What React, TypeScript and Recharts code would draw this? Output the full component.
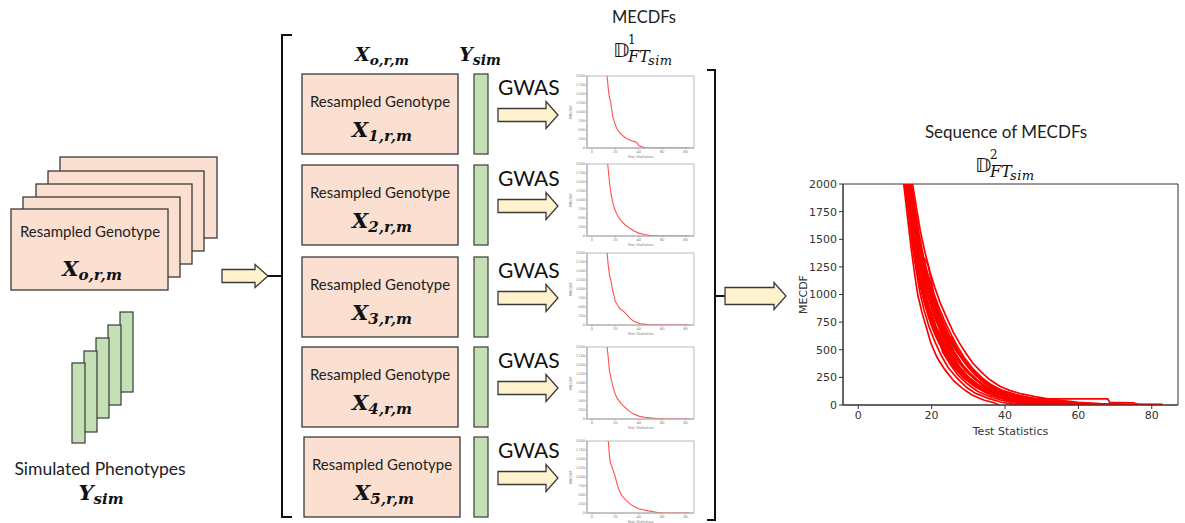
import React from 'react';
import { LineChart, Line, XAxis, YAxis, ReferenceArea } from 'recharts';

// ---------- axis settings ----------
const xTicks = [0, 20, 40, 60, 80];
const yTicks = [0, 250, 500, 750, 1000, 1250, 1500, 1750, 2000];
const xDomain: [number, number] = [-4.15, 87.15];
const yDomain: [number, number] = [0, 2000];
const xLabel = 'Test Statistics';
const yLabel = 'MECDF';

// ---------- text labels ----------
const headerTitle = 'MECDFs';
const seqTitle = 'Sequence of MECDFs';
const boxLabel = 'Resampled Genotype';
const gwasLabel = 'GWAS';
const phenoLabel = 'Simulated Phenotypes';
const rowIndices = ['1', '2', '3', '4', '5'];

// ---------- sequence of MECDFs (big plot), [test statistic, MECDF] ----------
const c01 = [[11.6,2500],[12.4,2000],[13.6,1650],[14.5,1400],[15.4,1180],[16.2,1000],[17.5,820],[18.6,700],[19.8,560],[21.5,430],[23.6,320],[26.0,220],[28.4,150],[31.0,90],[34.2,45],[37.0,20],[38.5,0]];
const c02 = [[11.8,2500],[12.7,2000],[13.9,1680],[14.8,1420],[15.9,1200],[16.8,1020],[18.0,850],[19.4,700],[20.8,580],[22.6,450],[24.5,340],[27.0,240],[29.5,160],[32.0,105],[35.5,60],[39.0,25],[42.0,8],[44.0,0]];
const c03 = [[12.0,2500],[13.0,2000],[14.1,1700],[15.0,1460],[16.0,1250],[17.2,1050],[18.3,900],[19.9,740],[21.2,620],[22.0,600],[23.0,480],[25.0,370],[27.2,270],[29.8,190],[32.5,125],[35.6,80],[38.8,45],[42.5,20],[46.0,5],[48.0,0]];
const c04 = [[12.1,2500],[13.2,2000],[14.3,1720],[15.3,1480],[16.4,1260],[17.3,1100],[18.8,920],[20.3,760],[21.9,630],[23.8,500],[25.6,400],[27.9,300],[30.1,220],[33.0,150],[36.0,95],[39.5,55],[43.0,30],[47.0,12],[52.0,3],[55.0,0]];
const c05 = [[12.3,2500],[13.4,2000],[14.6,1700],[15.5,1500],[16.6,1320],[17.8,1150],[19.0,980],[20.5,820],[22.0,700],[23.5,580],[25.4,460],[27.5,350],[30.0,250],[32.8,170],[36.0,110],[39.0,70],[42.4,40],[46.0,20],[51.0,8],[58.0,0]];
const c06 = [[12.2,2500],[13.1,2000],[14.0,1760],[14.9,1530],[15.8,1340],[16.5,1180],[17.1,1080],[18.1,950],[19.2,820],[20.6,690],[22.3,560],[24.4,430],[26.7,320],[29.3,230],[32.1,160],[35.5,100],[39.2,60],[43.5,30],[48.0,10],[52.0,0]];
const c07 = [[12.6,2500],[13.7,2000],[14.8,1720],[15.8,1520],[16.5,1400],[17.3,1350],[18.2,1320],[19.0,1270],[19.8,1150],[20.6,1000],[21.7,860],[23.0,720],[24.6,590],[26.4,470],[28.5,360],[31.0,260],[34.0,175],[37.2,110],[41.0,65],[45.0,35],[50.0,15],[55.0,5],[60.0,0]];
const c08 = [[12.4,2500],[13.5,2000],[14.5,1760],[15.6,1500],[16.7,1280],[17.6,1120],[18.7,960],[20.0,810],[21.4,690],[22.9,580],[24.7,470],[26.3,390],[28.1,310],[30.5,230],[33.4,160],[36.8,110],[40.5,70],[44.0,45],[48.5,25],[53.0,10],[60.0,3],[66.0,0]];
const c09 = [[12.8,2500],[13.8,2000],[14.9,1740],[15.9,1540],[17.0,1320],[18.0,1160],[19.3,1000],[20.7,860],[22.2,730],[24.0,600],[25.9,490],[27.6,400],[29.3,320],[31.6,240],[34.3,170],[37.5,115],[41.0,80],[45.0,50],[50.0,28],[55.5,12],[62.0,4],[70.0,0]];
const c10 = [[12.5,2500],[13.6,2000],[14.7,1700],[15.7,1480],[16.9,1270],[18.3,1080],[19.6,930],[21.0,800],[22.8,660],[24.6,540],[26.8,420],[29.0,330],[31.8,240],[34.8,170],[38.0,120],[41.5,85],[44.0,65],[47.0,55],[68.0,55],[68.5,25],[75.0,20],[76.0,8],[83.0,5]];
const c11 = [[13.0,2500],[14.0,2000],[15.1,1760],[16.1,1560],[17.4,1340],[18.6,1170],[20.0,1010],[21.4,880],[23.0,750],[24.9,620],[25.6,610],[26.6,520],[28.4,430],[30.2,350],[32.4,270],[35.0,200],[38.2,140],[41.8,100],[45.5,70],[50.0,45],[54.0,30],[60.0,15],[66.0,6],[72.0,0]];
const c12 = [[13.2,2500],[14.2,2000],[15.2,1800],[16.0,1620],[16.9,1450],[18.0,1280],[19.4,1100],[20.9,950],[22.3,820],[24.1,680],[25.8,560],[27.9,450],[29.9,360],[32.1,280],[34.6,210],[37.4,155],[40.6,115],[44.2,80],[48.0,55],[52.5,35],[57.0,20],[63.0,8],[70.0,2],[76.0,0]];
const c13 = [[13.4,2500],[14.5,2000],[15.6,1760],[16.6,1550],[17.8,1340],[19.0,1180],[20.5,1020],[21.8,900],[23.4,770],[25.3,640],[27.2,520],[29.1,420],[31.2,330],[33.6,250],[36.2,185],[39.3,130],[42.8,95],[46.0,70],[49.5,50],[53.0,35],[58.0,20],[65.0,10],[72.0,4],[80.0,0]];
const c14 = [[13.6,2500],[14.8,2000],[15.9,1780],[16.9,1580],[18.2,1380],[19.6,1200],[20.9,1060],[22.4,920],[24.1,790],[25.9,660],[27.6,560],[29.3,470],[31.2,380],[33.5,300],[35.8,230],[38.6,170],[41.4,130],[44.6,100],[47.8,78],[51.0,60],[55.0,42],[60.0,25],[66.0,12],[74.0,5],[83.0,1]];
const c15 = [[11.9,2500],[12.9,2000],[13.8,1740],[14.7,1500],[15.7,1280],[16.7,1100],[17.9,940],[19.1,800],[20.4,680],[22.0,560],[24.0,440],[26.1,340],[28.6,250],[31.3,180],[34.4,120],[37.8,75],[41.5,42],[45.5,20],[50.0,6],[53.0,0]];
const c16 = [[12.7,2500],[13.8,2000],[14.9,1710],[16.0,1460],[17.1,1260],[18.4,1060],[19.8,900],[21.3,760],[22.9,640],[24.8,520],[26.9,410],[29.2,310],[31.9,230],[34.9,160],[38.1,110],[41.6,75],[45.2,50],[49.0,32],[53.5,18],[58.0,8],[64.0,0]];
const c17 = [[12.9,2500],[13.9,2000],[15.0,1750],[16.2,1500],[17.6,1280],[19.0,1100],[20.3,960],[21.7,830],[23.2,710],[25.1,590],[27.0,480],[29.2,380],[31.5,290],[34.0,215],[36.9,150],[40.0,105],[43.5,72],[47.0,48],[51.0,30],[56.0,16],[61.0,6],[67.0,0]];
const c18 = [[12.3,2500],[13.3,2000],[14.4,1680],[15.4,1430],[16.4,1220],[17.6,1040],[18.9,880],[20.2,750],[21.8,620],[23.4,510],[25.2,410],[27.3,320],[29.6,240],[32.3,170],[35.2,115],[38.4,75],[41.9,48],[45.8,28],[50.5,14],[56.0,5],[61.0,0]];
const c19 = [[13.1,2500],[14.3,2000],[15.4,1740],[16.5,1520],[17.7,1320],[18.9,1160],[20.2,1010],[21.6,870],[23.3,730],[25.0,610],[26.9,500],[28.8,400],[30.9,310],[33.2,235],[35.9,170],[38.9,120],[42.2,85],[45.8,60],[50.0,40],[54.5,25],[60.0,12],[67.0,5],[75.0,0]];
const c20 = [[12.0,2500],[13.0,2000],[13.9,1720],[14.8,1480],[15.9,1260],[16.9,1090],[18.1,930],[19.6,780],[21.1,650],[22.8,530],[24.8,420],[26.8,330],[29.0,250],[31.7,175],[34.7,115],[38.0,70],[41.3,40],[44.8,20],[48.5,8],[51.0,0]];
const c21 = [[12.6,2500],[13.5,2000],[14.6,1730],[15.6,1510],[16.8,1300],[18.0,1130],[19.5,960],[21.1,820],[22.6,700],[24.3,580],[26.2,470],[28.0,380],[30.4,290],[33.0,210],[35.8,150],[39.0,100],[42.6,65],[46.5,40],[51.0,22],[57.0,10],[63.0,3],[69.0,0]];
const c22 = [[12.9,2500],[14.0,2000],[15.3,1690],[16.3,1480],[17.5,1270],[18.7,1110],[20.1,950],[21.5,830],[23.1,700],[24.7,600],[26.5,500],[28.6,400],[30.7,320],[33.3,240],[36.3,175],[39.6,125],[43.1,90],[47.2,62],[52.0,40],[57.0,24],[62.0,12],[70.0,5],[78.0,0]];
const c23 = [[12.4,2500],[13.3,2000],[14.2,1740],[15.3,1470],[16.2,1300],[17.0,1240],[17.9,1060],[19.1,900],[20.0,830],[21.3,700],[23.1,600],[24.2,520],[25.9,430],[27.8,330],[30.2,250],[32.9,180],[36.1,125],[39.5,85],[43.0,55],[47.5,30],[52.0,14],[57.0,4],[62.0,0]];
const c24 = [[12.7,2500],[13.6,2000],[14.7,1730],[15.9,1500],[17.2,1290],[18.5,1110],[19.5,1040],[20.4,920],[21.9,780],[23.6,650],[25.0,570],[26.1,560],[27.4,470],[29.5,360],[31.9,270],[34.6,195],[37.6,140],[41.0,100],[44.5,72],[48.5,48],[53.0,28],[59.0,12],[65.0,3],[71.0,0]];
const seqCurves = [c01, c02, c03, c04, c05, c06, c07, c08, c09, c10, c11, c12, c13, c14, c15, c16, c17, c18, c19, c20, c21, c22, c23, c24];

// ---------- single MECDFs (small plots, one per row) ----------
const s1 = [[11,2500],[13,2000],[14,1650],[15,1400],[16,1300],[17,1050],[18,850],[19.5,700],[21,560],[23,460],[25,380],[28,300],[31,240],[34,200],[37,170],[38.5,150],[40,70],[42,40],[45,10],[47,0],[83,0]];
const s2 = [[12,2500],[13.5,2000],[15,1500],[16.5,1150],[18,900],[20,700],[22,560],[25,420],[28,320],[32,220],[36,140],[40,80],[45,40],[50,15],[55,5],[60,0],[83,0]];
const s3 = [[11,2500],[13,2000],[14,1650],[15,1400],[16.5,1200],[17.5,1000],[19,800],[20,650],[22,550],[24,450],[27,380],[30,280],[33,170],[36,100],[39,60],[42,30],[48,10],[55,3],[60,0],[83,0]];
const s4 = [[11,2500],[13,2000],[14,1700],[15,1350],[16.5,1100],[18,900],[20,680],[22,560],[25,430],[28,330],[31,240],[35,150],[40,80],[45,50],[50,30],[55,15],[60,5],[65,0],[83,0]];
const s5 = [[12,2500],[14,2000],[15,1600],[15.8,1400],[17,1300],[18.5,1150],[20,1000],[21.5,800],[23,650],[25,520],[27,430],[30,330],[33,240],[36,180],[40,120],[44,90],[48,60],[52,40],[56,15],[60,3],[65,0],[83,0]];
const rowCurves = [s1, s2, s3, s4, s5];

const toPts = (arr: number[][]) => arr.map(([x, y]) => ({ x, y }));

// ---------- layout constants ----------
const rowTops = [74, 165, 257, 347, 437];
const plotTops = [76, 164, 253, 347, 441];

const SANS = 'Lato, "Open Sans", sans-serif';
const MATH = '"DejaVu Serif", "Liberation Serif", serif';
const PINK = '#fbe0d2';
const GREEN = '#c5e0b4';
const CREAM = '#fff2cc';
const EDGE = '#3a3a3a';

function BlockArrow({ x0, x1, cy, sh, hh, hl }: any) {
  const d = `M${x0},${cy - sh / 2} L${x1 - hl},${cy - sh / 2} L${x1 - hl},${cy - hh / 2} L${x1},${cy} L${x1 - hl},${cy + hh / 2} L${x1 - hl},${cy + sh / 2} L${x0},${cy + sh / 2} Z`;
  return <path d={d} fill={CREAM} stroke={EDGE} strokeWidth={1.3} strokeLinejoin="miter" />;
}

function MathX({ x, y, sub, size }: any) {
  return (
    <text x={x} y={y} textAnchor="middle" fontFamily={MATH} fontWeight="bold" fontStyle="italic" fontSize={size} fill="#111">
      X<tspan dy={4} fontSize={size * 0.72}>{sub}</tspan>
    </text>
  );
}

function MathD({ x, y, sup }: any) {
  return (
    <g fill="#111">
      <text x={x} y={y} fontFamily='"DejaVu Sans", "Noto Sans", sans-serif' fontSize={20}>𝔻</text>
      <text x={x + 15} y={y - 13} fontFamily={MATH} fontSize={12}>{sup}</text>
      <text x={x + 15} y={y + 5} fontFamily={MATH} fontStyle="italic" fontSize={16}>FT</text>
      <text x={x + 35} y={y + 8} fontFamily={MATH} fontStyle="italic" fontSize={13} letterSpacing={0.5}>sim</text>
    </g>
  );
}

function SmallPlot({ top, data }: any) {
  return (
    <div style={{ position: 'absolute', left: 560, top: top - 4 }}>
      <LineChart width={140} height={92} margin={{ top: 4, right: 6, bottom: 4, left: 0 }}>
        <XAxis type="number" dataKey="x" domain={xDomain} ticks={xTicks} allowDataOverflow height={12}
          tickSize={1.5} tickMargin={0.5} stroke="#aaa" tick={{ fontSize: 3.6, fill: '#777', fontFamily: 'DejaVu Sans' }}
          label={{ value: xLabel, position: 'insideBottom', offset: 2, fontSize: 3.8, fill: '#777', fontFamily: 'DejaVu Sans' }} />
        <YAxis type="number" dataKey="y" domain={yDomain} ticks={yTicks} allowDataOverflow width={27}
          tickSize={1.5} tickMargin={0.5} stroke="#aaa" tick={{ fontSize: 3.6, fill: '#777', fontFamily: 'DejaVu Sans' }}
          label={{ value: yLabel, angle: -90, position: 'insideLeft', offset: 11, fontSize: 3.8, fill: '#777', fontFamily: 'DejaVu Sans', style: { textAnchor: 'middle' } }} />
        <ReferenceArea x1={xDomain[0]} x2={xDomain[1]} y1={yDomain[0]} y2={yDomain[1]} fill="none" stroke="#aaa" strokeWidth={0.8} />
        <Line data={toPts(data)} dataKey="y" type="linear" stroke="#ff5050" strokeWidth={1.1} dot={false} isAnimationActive={false} />
      </LineChart>
    </div>
  );
}

export default function App() {
  const stackRects = [[60, 157, 217, 238], [48, 171, 204, 251], [36, 184, 192, 264], [23, 197, 180, 277], [11, 209, 168, 290]];
  const greenStack = [[120, 312, 133, 392], [108, 325, 121, 405], [96, 338, 109, 418], [84, 351, 97, 432], [72, 363, 85, 443]];
  return (
    <div style={{ position: 'absolute', left: 0, top: 0, width: 1185, height: 523, background: '#fff', overflow: 'hidden' }}>
      <svg width={1185} height={523} style={{ position: 'absolute', left: 0, top: 0 }}>
        {/* left genotype stack */}
        {stackRects.map(([x0, y0, x1, y1], i) => (
          <rect key={i} x={x0} y={y0} width={x1 - x0} height={y1 - y0} fill={PINK} stroke={EDGE} strokeWidth={1.3} />
        ))}
        <text x={90} y={237} textAnchor="middle" fontFamily={SANS} fontSize={15} fill="#222">{boxLabel}</text>
        <MathX x={92} y={276} sub="o,r,m" size={21} />
        {/* phenotype stack */}
        {greenStack.map(([x0, y0, x1, y1], i) => (
          <rect key={i} x={x0} y={y0} width={x1 - x0} height={y1 - y0} fill={GREEN} stroke={EDGE} strokeWidth={1.2} />
        ))}
        <text x={100} y={475} textAnchor="middle" fontFamily={SANS} fontSize={17.5} fill="#222">{phenoLabel}</text>
        <text x={101} y={500} textAnchor="middle" fontFamily={MATH} fontWeight="bold" fontStyle="italic" fontSize={21} fill="#111">
          Y<tspan dy={4} fontSize={15}>sim</tspan>
        </text>
        {/* left arrow + bracket */}
        <BlockArrow x0={222} x1={268} cy={276} sh={13} hh={23} hl={13} />
        <path d="M268,276 L282,276" stroke="#111" strokeWidth={2} />
        <path d="M292,35 L282,35 L282,517 L292,517" fill="none" stroke="#111" strokeWidth={2} />
        {/* header */}
        <MathX x={382} y={61} sub="o,r,m" size={19} />
        <text x={480} y={61} textAnchor="middle" fontFamily={MATH} fontWeight="bold" fontStyle="italic" fontSize={19} fill="#111">
          Y<tspan dy={4} fontSize={14}>sim</tspan>
        </text>
        <text x={644} y={23} textAnchor="middle" fontFamily={SANS} fontSize={16.5} fill="#222">{headerTitle}</text>
        <MathD x={613} y={57} sup="1" />
        {/* rows */}
        {rowTops.map((t, i) => (
          <g key={i}>
            <rect x={i === 4 ? 304 : 302} y={t} width={156} height={80} fill={PINK} stroke={EDGE} strokeWidth={1.3} />
            <text x={i === 4 ? 382 : 380} y={t + 33} textAnchor="middle" fontFamily={SANS} fontSize={15} fill="#222">{boxLabel}</text>
            <MathX x={i === 4 ? 384 : 382} y={t + 63} sub={`${rowIndices[i]},r,m`} size={21} />
            <rect x={474} y={t} width={14} height={80} fill={GREEN} stroke={EDGE} strokeWidth={1.2} />
            <text x={498} y={t + 21} fontFamily={SANS} fontSize={21} fill="#111">{gwasLabel}</text>
            <BlockArrow x0={498} x1={558} cy={t + 41} sh={13} hh={27} hl={12} />
          </g>
        ))}
        {/* right bracket + arrow */}
        <path d="M707,70 L715,70 L715,520 L707,520" fill="none" stroke="#111" strokeWidth={2} />
        <path d="M715,296 L725,296" stroke="#111" strokeWidth={2} />
        <BlockArrow x0={725} x1={786} cy={296} sh={17} hh={27} hl={12} />
        {/* big plot titles */}
        <text x={1006} y={138} textAnchor="middle" fontFamily={SANS} fontSize={17} fill="#222">{seqTitle}</text>
        <MathD x={975} y={172} sup="2" />
      </svg>

      {rowCurves.map((c, i) => <SmallPlot key={i} top={plotTops[i]} data={c} />)}

      <div style={{ position: 'absolute', left: 780, top: 170 }}>
        <LineChart width={405} height={280} margin={{ top: 14, right: 7, bottom: 15, left: 0 }}>
          <XAxis type="number" dataKey="x" domain={xDomain} ticks={xTicks} allowDataOverflow height={30}
            tickSize={4} tickMargin={2} stroke="#333" tick={{ fontSize: 11, fill: '#333', fontFamily: 'DejaVu Sans' }}
            label={{ value: xLabel, position: 'insideBottom', offset: 0, fontSize: 11, fill: '#333', fontFamily: 'DejaVu Sans' }} />
          <YAxis type="number" dataKey="y" domain={yDomain} ticks={yTicks} allowDataOverflow width={63}
            tickSize={4} tickMargin={2} stroke="#333" tick={{ fontSize: 11, fill: '#333', fontFamily: 'DejaVu Sans' }}
            label={{ value: yLabel, angle: -90, position: 'insideLeft', offset: 23, fontSize: 11, fill: '#333', fontFamily: 'DejaVu Sans', style: { textAnchor: 'middle' } }} />
          <ReferenceArea x1={xDomain[0]} x2={xDomain[1]} y1={yDomain[0]} y2={yDomain[1]} fill="none" stroke="#333" strokeWidth={1} />
          {seqCurves.map((c, i) => (
            <Line key={i} data={toPts(c)} dataKey="y" type="linear" stroke="#ff0000" strokeWidth={1.7} dot={false} isAnimationActive={false} />
          ))}
        </LineChart>
      </div>
    </div>
  );
}
